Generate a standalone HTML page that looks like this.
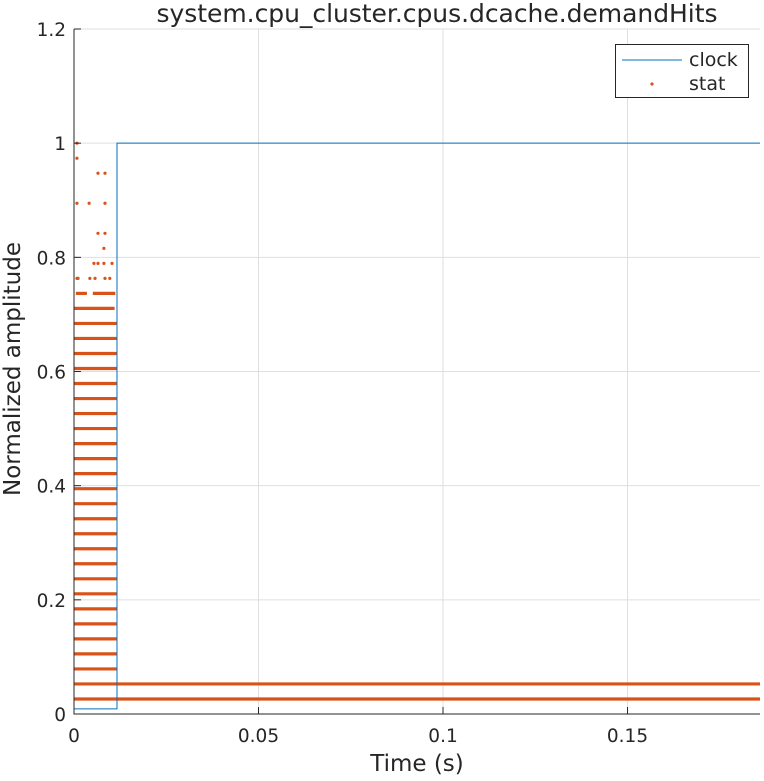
<!DOCTYPE html>
<html><head><meta charset="utf-8"><style>
body{margin:0;background:#fff;font-family:"Liberation Sans","DejaVu Sans",sans-serif}
svg text{font-family:"DejaVu Sans","Liberation Sans",sans-serif;fill:#262626}
</style></head><body>
<svg id="c" width="764" height="776" xmlns="http://www.w3.org/2000/svg"></svg>
<script>
const xTicks=[0,0.05,0.1,0.15];
const xTickLabels=["0","0.05","0.1","0.15"];
const yTicks=[0,0.2,0.4,0.6,0.8,1,1.2];
const yTickLabels=["0","0.2","0.4","0.6","0.8","1","1.2"];
const clockT=[0,0.01165,0.01165,0.1859];
const clockV=[0.009,0.009,1,1];
// dense stat bands: level index (k/38), start time, end time
const bandLevel=[1,2,3,4,5,6,7,8,9,10,11,12,13,14,15,16,17,18,19,20,21,22,23,24,25,26,27,28,28];
const bandStart=[0,0,0,0,0,0,0,0,0,0,0,0,0,0,0,0,0,0,0,0,0,0,0,0,0,0,0,0.0005,0.0051];
const bandEnd=[0.1859,0.1859,0.0116,0.0116,0.0116,0.0116,0.0116,0.0116,0.0116,0.0116,0.0116,0.0116,0.0116,0.0116,0.0116,0.0116,0.0116,0.0116,0.0116,0.0116,0.0116,0.0116,0.0116,0.0116,0.0116,0.0116,0.0110,0.0035,0.0112];
// sparse stat points
const ptT=[0.0008,0.0011,0.0043,0.0057,0.0084,0.0097,0.0054,0.0065,0.0081,0.0103,0.0081,0.0065,0.0084,0.0008,0.0041,0.0084,0.0065,0.0084,0.0008,0.0008];
const ptV=[29,29,29,29,29,29,30,30,30,30,31,32,32,34,34,34,36,36,37,38];
const NS="http://www.w3.org/2000/svg",svg=document.getElementById('c');
const X0=74,X1=760,Y0=714,Y1=29,XMAX=0.1859,YMAX=1.2;
const sx=t=>X0+t/XMAX*(X1-X0), sy=v=>Y0-v/YMAX*(Y0-Y1);
function el(tag,a,p){const e=document.createElementNS(NS,tag);for(const k in a)e.setAttribute(k,a[k]);(p||svg).appendChild(e);return e;}
const grid=el('g',{});


xTicks.forEach(t=>{if(t>0)el('line',{x1:sx(t),x2:sx(t),y1:Y1,y2:Y0,stroke:'#dfdfdf'},grid);});
yTicks.forEach(v=>{if(v>0)el('line',{x1:X0,x2:X1,y1:sy(v),y2:sy(v),stroke:'#dfdfdf'},grid);});
const st=el('g',{});


bandLevel.forEach((k,i)=>{const y=sy(k/38);el('line',{x1:sx(bandStart[i]),x2:sx(bandEnd[i]),y1:y,y2:y,stroke:'#d95319','stroke-width':3.2},st);});
ptT.forEach((t,i)=>{el('circle',{cx:sx(t),cy:sy(ptV[i]/38),r:1.6,fill:'#d95319'},st);});
const cl=el('polyline',{points:clockT.map((t,i)=>sx(t)+','+sy(clockV[i])).join(' '),fill:'none',stroke:'#0072bd','stroke-width':1});


el('line',{x1:X0,x2:X0,y1:Y1,y2:Y0+0.5,stroke:'#262626'});
el('line',{x1:X0,x2:X1,y1:Y0,y2:Y0,stroke:'#262626'});
xTicks.forEach((t,i)=>{el('line',{x1:sx(t),x2:sx(t),y1:Y0,y2:Y0-7,stroke:'#262626'});const tx=el('text',{x:sx(t),y:742,'text-anchor':'middle','font-size':18.5});tx.textContent=xTickLabels[i];});
yTicks.forEach((v,i)=>{el('line',{x1:X0,x2:X0+7,y1:sy(v),y2:sy(v),stroke:'#262626'});const tx=el('text',{x:66,y:sy(v)+7,'text-anchor':'end','font-size':18.5});tx.textContent=yTickLabels[i];});
</script>
<svg style="position:absolute;left:0;top:0" width="764" height="776" xmlns="http://www.w3.org/2000/svg">
<text x="437" y="22" text-anchor="middle" font-size="25" textLength="561">system.cpu_cluster.cpus.dcache.demandHits</text>
<text x="417" y="771" text-anchor="middle" font-size="23">Time (s)</text>
<text transform="translate(20,369) rotate(-90)" text-anchor="middle" font-size="23">Normalized amplitude</text>
<g>
<rect x="615.5" y="44.5" width="133" height="53" fill="#fff" stroke="#262626"/>
<line x1="622" x2="682" y1="60" y2="60" stroke="#0072bd"/>
<text x="689" y="66" font-size="19">clock</text>
<circle cx="652" cy="84" r="1.6" fill="#d95319"/>
<text x="689" y="90" font-size="19">stat</text>
</g>
</svg>
</body></html>
